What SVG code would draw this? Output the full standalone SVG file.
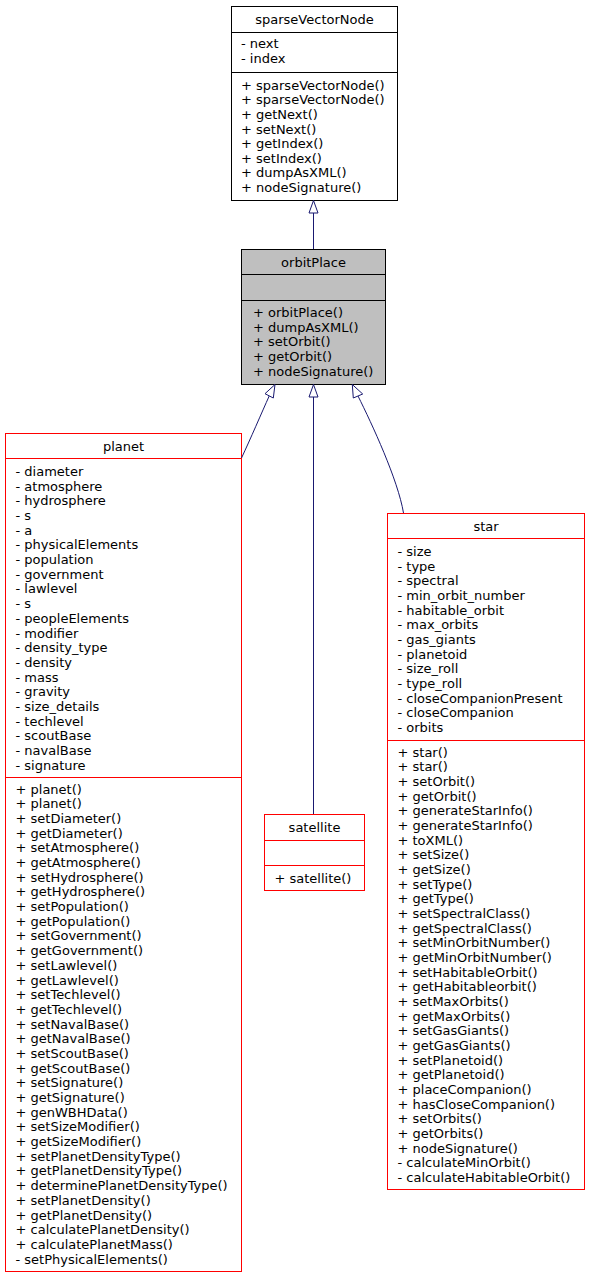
<svg xmlns="http://www.w3.org/2000/svg" width="589" height="1277" viewBox="0 0 589 1277">
<style>
text{font-family:"DejaVu Sans","Liberation Sans",sans-serif;font-size:13px;fill:#000}
.t{text-anchor:middle}
.box{fill:#fff;stroke:#000;stroke-width:1}
.gray{fill:#bfbfbf;stroke:#000;stroke-width:1}
.red{fill:#fff;stroke:#ff0000;stroke-width:1}
.dl{stroke:#000;stroke-width:1}
.dr{stroke:#ff0000;stroke-width:1}
.edge{fill:none;stroke:#191970;stroke-width:1}
.head{fill:#fff;stroke:#191970;stroke-width:1}
</style>
<rect width="589" height="1277" fill="#fff"/>
<g id="sparseVectorNode">
<rect class="box" x="231.5" y="6.5" width="166" height="194"/>
<line class="dl" x1="231.5" y1="32.5" x2="397.5" y2="32.5"/>
<line class="dl" x1="231.5" y1="72.5" x2="397.5" y2="72.5"/>
<text class="t" x="314.5" y="24">sparseVectorNode</text>
<text x="241" y="48.3">- next</text>
<text x="241" y="62.9">- index</text>
<text x="241" y="89.8">+ sparseVectorNode()</text>
<text x="241" y="104.4">+ sparseVectorNode()</text>
<text x="241" y="119">+ getNext()</text>
<text x="241" y="133.6">+ setNext()</text>
<text x="241" y="148.2">+ getIndex()</text>
<text x="241" y="162.8">+ setIndex()</text>
<text x="241" y="177.4">+ dumpAsXML()</text>
<text x="241" y="192">+ nodeSignature()</text>
</g>
<g id="orbitPlace">
<rect class="gray" x="241.5" y="249.5" width="144" height="135"/>
<line class="dl" x1="241.5" y1="274.5" x2="385.5" y2="274.5"/>
<line class="dl" x1="241.5" y1="300.5" x2="385.5" y2="300.5"/>
<text class="t" x="313.5" y="267">orbitPlace</text>
<text x="253" y="317.2">+ orbitPlace()</text>
<text x="253" y="331.8">+ dumpAsXML()</text>
<text x="253" y="346.4">+ setOrbit()</text>
<text x="253" y="361">+ getOrbit()</text>
<text x="253" y="375.6">+ nodeSignature()</text>
</g>
<g id="planet">
<rect class="red" x="5.5" y="433.5" width="236" height="838"/>
<line class="dr" x1="5.5" y1="458.5" x2="241.5" y2="458.5"/>
<line class="dr" x1="5.5" y1="777.5" x2="241.5" y2="777.5"/>
<text class="t" x="123.5" y="451">planet</text>
<text x="15.5" y="476">- diameter</text>
<text x="15.5" y="490.7">- atmosphere</text>
<text x="15.5" y="505.4">- hydrosphere</text>
<text x="15.5" y="520">- s</text>
<text x="15.5" y="534.7">- a</text>
<text x="15.5" y="549.4">- physicalElements</text>
<text x="15.5" y="564.1">- population</text>
<text x="15.5" y="578.8">- government</text>
<text x="15.5" y="593.4">- lawlevel</text>
<text x="15.5" y="608.1">- s</text>
<text x="15.5" y="622.8">- peopleElements</text>
<text x="15.5" y="637.5">- modifier</text>
<text x="15.5" y="652.2">- density_type</text>
<text x="15.5" y="666.8">- density</text>
<text x="15.5" y="681.5">- mass</text>
<text x="15.5" y="696.2">- gravity</text>
<text x="15.5" y="710.9">- size_details</text>
<text x="15.5" y="725.6">- techlevel</text>
<text x="15.5" y="740.2">- scoutBase</text>
<text x="15.5" y="754.9">- navalBase</text>
<text x="15.5" y="769.6">- signature</text>
<text x="15.5" y="793.5">+ planet()</text>
<text x="15.5" y="808.2">+ planet()</text>
<text x="15.5" y="822.9">+ setDiameter()</text>
<text x="15.5" y="837.6">+ getDiameter()</text>
<text x="15.5" y="852.3">+ setAtmosphere()</text>
<text x="15.5" y="866.9">+ getAtmosphere()</text>
<text x="15.5" y="881.6">+ setHydrosphere()</text>
<text x="15.5" y="896.3">+ getHydrosphere()</text>
<text x="15.5" y="911">+ setPopulation()</text>
<text x="15.5" y="925.7">+ getPopulation()</text>
<text x="15.5" y="940.4">+ setGovernment()</text>
<text x="15.5" y="955.1">+ getGovernment()</text>
<text x="15.5" y="969.8">+ setLawlevel()</text>
<text x="15.5" y="984.5">+ getLawlevel()</text>
<text x="15.5" y="999.2">+ setTechlevel()</text>
<text x="15.5" y="1013.9">+ getTechlevel()</text>
<text x="15.5" y="1028.5">+ setNavalBase()</text>
<text x="15.5" y="1043.2">+ getNavalBase()</text>
<text x="15.5" y="1057.9">+ setScoutBase()</text>
<text x="15.5" y="1072.6">+ getScoutBase()</text>
<text x="15.5" y="1087.3">+ setSignature()</text>
<text x="15.5" y="1102">+ getSignature()</text>
<text x="15.5" y="1116.7">+ genWBHData()</text>
<text x="15.5" y="1131.4">+ setSizeModifier()</text>
<text x="15.5" y="1146.1">+ getSizeModifier()</text>
<text x="15.5" y="1160.8">+ setPlanetDensityType()</text>
<text x="15.5" y="1175.4">+ getPlanetDensityType()</text>
<text x="15.5" y="1190.1">+ determinePlanetDensityType()</text>
<text x="15.5" y="1204.8">+ setPlanetDensity()</text>
<text x="15.5" y="1219.5">+ getPlanetDensity()</text>
<text x="15.5" y="1234.2">+ calculatePlanetDensity()</text>
<text x="15.5" y="1248.9">+ calculatePlanetMass()</text>
<text x="15.5" y="1263.6">- setPhysicalElements()</text>
</g>
<g id="satellite">
<rect class="red" x="264.5" y="814.5" width="100" height="76"/>
<line class="dr" x1="264.5" y1="840.5" x2="364.5" y2="840.5"/>
<line class="dr" x1="264.5" y1="865.5" x2="364.5" y2="865.5"/>
<text class="t" x="314.5" y="831.5">satellite</text>
<text x="274.5" y="883">+ satellite()</text>
</g>
<g id="star">
<rect class="red" x="387.5" y="513.5" width="197" height="676"/>
<line class="dr" x1="387.5" y1="538.5" x2="584.5" y2="538.5"/>
<line class="dr" x1="387.5" y1="740.5" x2="584.5" y2="740.5"/>
<text class="t" x="486" y="531">star</text>
<text x="397.5" y="556">- size</text>
<text x="397.5" y="570.7">- type</text>
<text x="397.5" y="585.3">- spectral</text>
<text x="397.5" y="600">- min_orbit_number</text>
<text x="397.5" y="614.7">- habitable_orbit</text>
<text x="397.5" y="629.4">- max_orbits</text>
<text x="397.5" y="644">- gas_giants</text>
<text x="397.5" y="658.7">- planetoid</text>
<text x="397.5" y="673.4">- size_roll</text>
<text x="397.5" y="688">- type_roll</text>
<text x="397.5" y="702.7">- closeCompanionPresent</text>
<text x="397.5" y="717.4">- closeCompanion</text>
<text x="397.5" y="732">- orbits</text>
<text x="397.5" y="756.5">+ star()</text>
<text x="397.5" y="771.2">+ star()</text>
<text x="397.5" y="785.8">+ setOrbit()</text>
<text x="397.5" y="800.5">+ getOrbit()</text>
<text x="397.5" y="815.2">+ generateStarInfo()</text>
<text x="397.5" y="829.9">+ generateStarInfo()</text>
<text x="397.5" y="844.5">+ toXML()</text>
<text x="397.5" y="859.2">+ setSize()</text>
<text x="397.5" y="873.9">+ getSize()</text>
<text x="397.5" y="888.5">+ setType()</text>
<text x="397.5" y="903.2">+ getType()</text>
<text x="397.5" y="917.9">+ setSpectralClass()</text>
<text x="397.5" y="932.5">+ getSpectralClass()</text>
<text x="397.5" y="947.2">+ setMinOrbitNumber()</text>
<text x="397.5" y="961.9">+ getMinOrbitNumber()</text>
<text x="397.5" y="976.6">+ setHabitableOrbit()</text>
<text x="397.5" y="991.2">+ getHabitableorbit()</text>
<text x="397.5" y="1005.9">+ setMaxOrbits()</text>
<text x="397.5" y="1020.6">+ getMaxOrbits()</text>
<text x="397.5" y="1035.2">+ setGasGiants()</text>
<text x="397.5" y="1049.9">+ getGasGiants()</text>
<text x="397.5" y="1064.6">+ setPlanetoid()</text>
<text x="397.5" y="1079.2">+ getPlanetoid()</text>
<text x="397.5" y="1093.9">+ placeCompanion()</text>
<text x="397.5" y="1108.6">+ hasCloseCompanion()</text>
<text x="397.5" y="1123.3">+ setOrbits()</text>
<text x="397.5" y="1137.9">+ getOrbits()</text>
<text x="397.5" y="1152.6">+ nodeSignature()</text>
<text x="397.5" y="1167.3">- calculateMinOrbit()</text>
<text x="397.5" y="1181.9">- calculateHabitableOrbit()</text>
</g>
<g id="connectors">
<path class="edge" d="M313.5,213 L313.5,249"/>
<polygon class="head" points="313.5,200.5 309,213 318,213"/>
<path class="edge" d="M269.2,396 C262,412 250,440 241.5,458"/>
<polygon class="head" points="275,384.5 265,393.7 273.3,398"/>
<path class="edge" d="M313.5,397 L313.5,814"/>
<polygon class="head" points="313.5,384.5 309,397 318,397"/>
<path class="edge" d="M358,396 C372,424 398,480 403.5,513"/>
<polygon class="head" points="352.3,384.5 353.3,398 362.7,394"/>
</g>
</svg>
